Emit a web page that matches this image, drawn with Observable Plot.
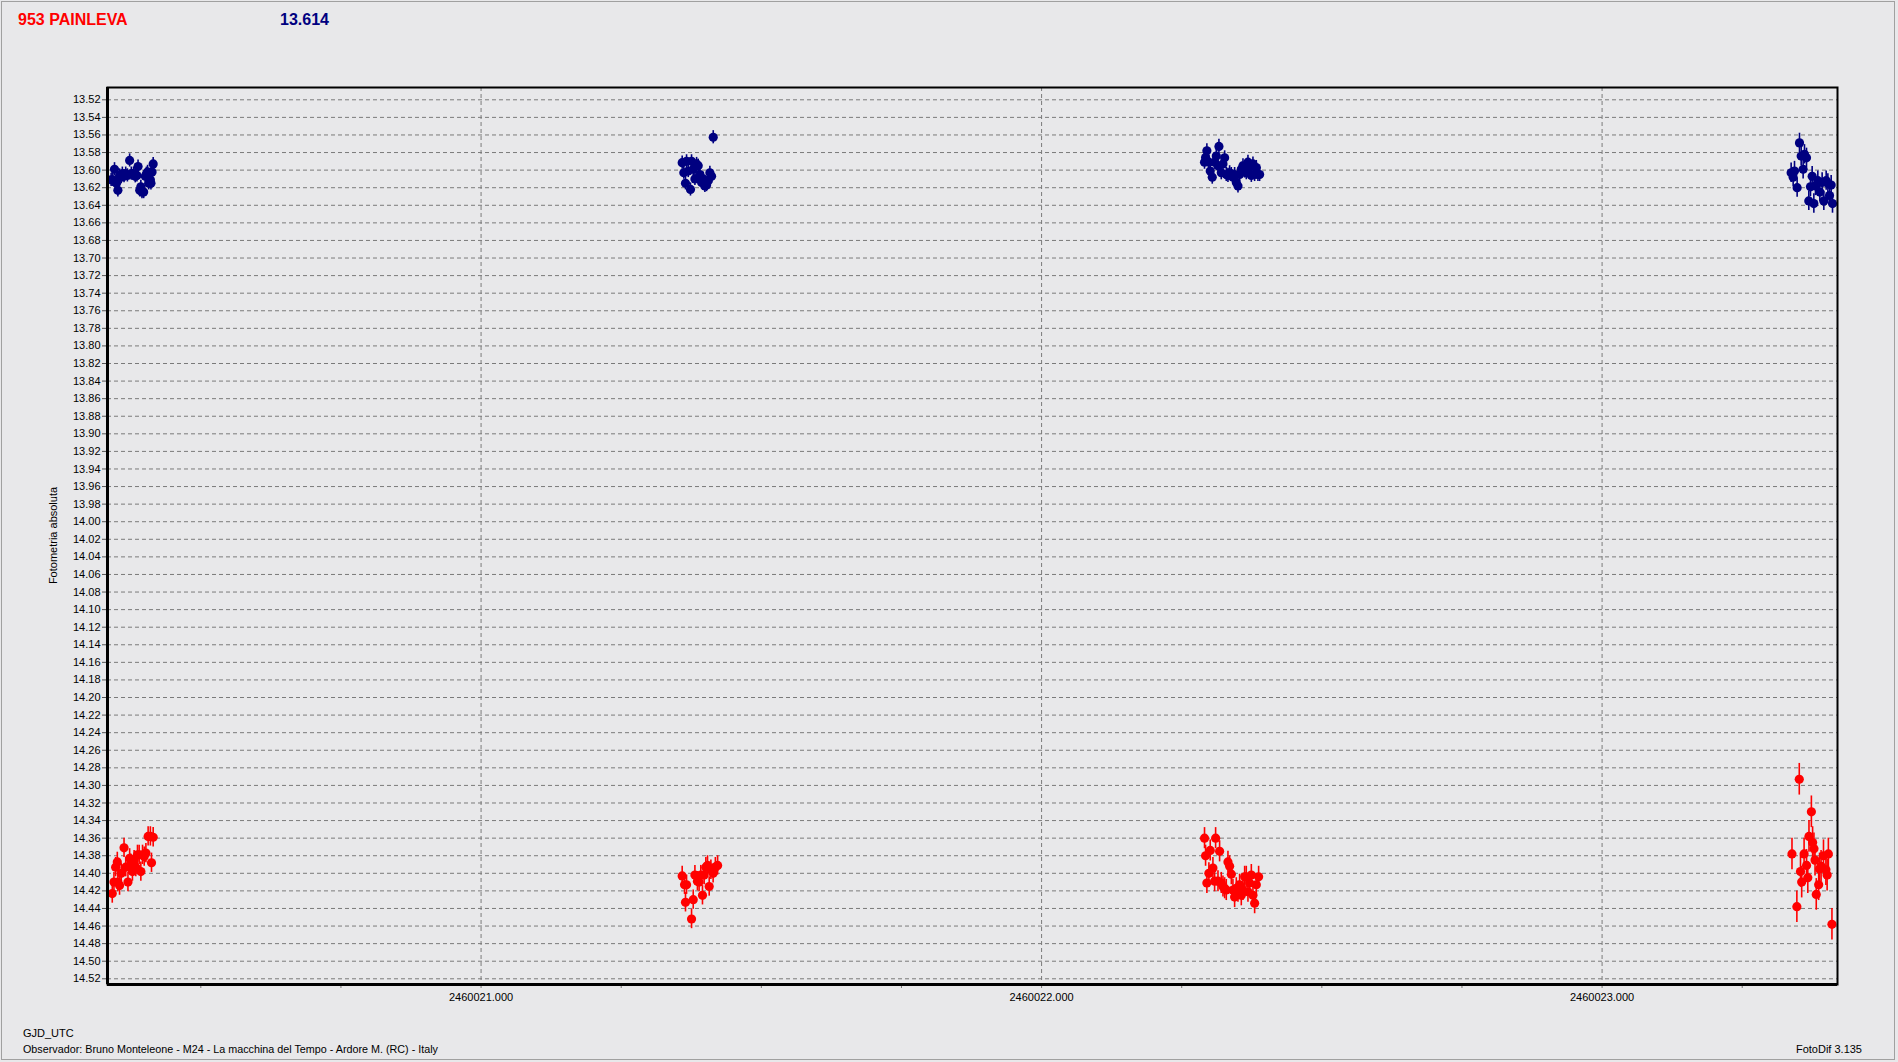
<!DOCTYPE html>
<html><head><meta charset="utf-8">
<script src="https://cdn.jsdelivr.net/npm/d3@7"></script>
<script src="https://cdn.jsdelivr.net/npm/@observablehq/plot@0.6"></script>
<style>
html,body{margin:0;padding:0;background:#e8e8ea;}
#wrap{position:relative;width:1898px;height:1062px;overflow:hidden;background:#e8e8ea;}
#wrap svg{position:absolute;left:0;top:0;}
#border{position:absolute;left:1px;top:1px;width:1894px;height:1059px;border:1px solid #a0a0a0;box-sizing:border-box;}
</style></head>
<body><div id="wrap"><div id="border"></div></div>
<script>
// ---------- DATA ----------
const objectName = "953 PAINLEVA";
const meanMag = "13.614";
const xLabel = "GJD_UTC";
const yLabel = "Fotometria absoluta";
const observer = "Observador: Bruno Monteleone - M24 - La macchina del Tempo - Ardore M. (RC) - Italy";
const software = "FotoDif 3.135";

const xMajorTicks = [2460021, 2460022, 2460023];
const xMinorTicks = [2460020.5, 2460020.75, 2460021, 2460021.25, 2460021.5, 2460021.75, 2460022, 2460022.25, 2460022.5, 2460022.75, 2460023, 2460023.25];
const yTicks = [13.52,13.54,13.56,13.58,13.60,13.62,13.64,13.66,13.68,13.70,13.72,13.74,13.76,13.78,13.80,13.82,13.84,13.86,13.88,13.90,13.92,13.94,13.96,13.98,14.00,14.02,14.04,14.06,14.08,14.10,14.12,14.14,14.16,14.18,14.20,14.22,14.24,14.26,14.28,14.30,14.32,14.34,14.36,14.38,14.40,14.42,14.44,14.46,14.48,14.50,14.52];

// Blue series
const blueJD = [
  2460020.340,2460020.343,2460020.346,2460020.3495,2460020.352,2460020.355,2460020.358,2460020.360,2460020.363,2460020.366,2460020.369,2460020.373,2460020.376,2460020.380,2460020.383,2460020.386,2460020.388,2460020.391,2460020.393,2460020.395,2460020.398,2460020.401,2460020.403,2460020.405,2460020.407,2460020.410,2460020.411,2460020.413,2460020.415,
  2460021.3588,2460021.3617,2460021.3647,2460021.3666,2460021.3696,2460021.3736,2460021.3755,2460021.3785,2460021.3815,2460021.3845,2460021.3874,2460021.3904,2460021.3934,2460021.3964,2460021.3993,2460021.4023,2460021.4053,2460021.4082,2460021.4112,2460021.4142,
  2460022.2907,2460022.2926,2460022.2949,2460022.2985,2460022.3009,2460022.3045,2460022.3087,2460022.3117,2460022.3147,2460022.3164,2460022.3206,2460022.3236,2460022.3266,2460022.3295,2460022.3325,2460022.3355,2460022.3385,2460022.3414,2460022.3444,2460022.3474,2460022.3504,2460022.3533,2460022.3563,2460022.3593,2460022.3623,2460022.3652,2460022.3682,2460022.3712,2460022.3742,2460022.3771,2460022.3801,2460022.3831,2460022.3860,2460022.3890,
  2460023.3373,2460023.3409,2460023.3433,2460023.3480,2460023.3522,2460023.3552,2460023.3587,2460023.3611,2460023.3647,2460023.3688,2460023.3718,2460023.3748,2460023.3778,2460023.3807,2460023.3849,2460023.3885,2460023.3926,2460023.3956,2460023.3998,2460023.4028,2460023.4057,2460023.4087,2460023.4111
];
const blueMag = [
  13.611,13.611,13.599,13.615,13.623,13.606,13.608,13.604,13.607,13.604,13.606,13.589,13.604,13.604,13.607,13.606,13.596,13.623,13.619,13.625,13.625,13.607,13.604,13.602,13.615,13.611,13.615,13.602,13.593,
  13.5915,13.603,13.615,13.590,13.601,13.622,13.590,13.599,13.610,13.593,13.595,13.605,13.614,13.610,13.618,13.617,13.612,13.603,13.607,13.5626,
  13.591,13.5855,13.578,13.591,13.601,13.608,13.591,13.584,13.595,13.573,13.603,13.593,13.586,13.605,13.606,13.603,13.605,13.608,13.605,13.614,13.618,13.605,13.599,13.595,13.601,13.603,13.591,13.597,13.606,13.593,13.605,13.597,13.605,13.605,
  13.603,13.608,13.601,13.620,13.569,13.584,13.599,13.582,13.586,13.635,13.619,13.607,13.638,13.618,13.612,13.625,13.614,13.635,13.612,13.615,13.629,13.617,13.638
];
const blueErrByNight = [0.0075, 0.0075, 0.008, 0.011];

// Red series
const redJD = [
  2460020.342,2460020.345,2460020.348,2460020.351,2460020.352,2460020.355,2460020.358,2460020.363,2460020.366,2460020.370,2460020.373,2460020.375,2460020.378,2460020.381,2460020.384,2460020.387,2460020.390,2460020.393,2460020.396,2460020.399,2460020.402,2460020.406,2460020.410,2460020.412,2460020.415,
  2460021.3588,2460021.363,2460021.3647,2460021.3666,2460021.3755,2460021.3785,2460021.3815,2460021.386,2460021.389,2460021.392,2460021.395,2460021.398,2460021.401,2460021.404,2460021.407,2460021.410,2460021.414,2460021.418,2460021.422,
  2460022.2907,2460022.2926,2460022.2949,2460022.2985,2460022.3009,2460022.3057,2460022.3087,2460022.3105,2460022.3147,2460022.3176,2460022.3206,2460022.3236,2460022.3266,2460022.3295,2460022.3325,2460022.3355,2460022.3385,2460022.3414,2460022.3444,2460022.3474,2460022.3504,2460022.3533,2460022.3563,2460022.3593,2460022.3623,2460022.3652,2460022.3682,2460022.3712,2460022.3742,2460022.3771,2460022.3801,2460022.3831,2460022.3872,
  2460023.3388,2460023.3475,2460023.3518,2460023.3540,2460023.3561,2460023.3604,2460023.3648,2460023.3670,2460023.3691,2460023.3734,2460023.3756,2460023.3780,2460023.3799,2460023.3821,2460023.3864,2460023.3880,2460023.3907,2460023.3950,2460023.3993,2460023.4015,2460023.4037,2460023.4101
];
const redMag = [
  14.423,14.410,14.393,14.387,14.410,14.414,14.400,14.371,14.393,14.410,14.383,14.389,14.398,14.385,14.393,14.379,14.379,14.398,14.379,14.381,14.377,14.358,14.358,14.388,14.359,
  14.403,14.413,14.433,14.413,14.452,14.430,14.402,14.409,14.410,14.402,14.425,14.402,14.393,14.391,14.415,14.396,14.400,14.393,14.391,
  14.360,14.380,14.411,14.400,14.374,14.394,14.409,14.360,14.409,14.375,14.411,14.415,14.417,14.419,14.387,14.392,14.401,14.419,14.427,14.417,14.421,14.413,14.425,14.419,14.404,14.404,14.421,14.411,14.402,14.425,14.434,14.413,14.404,
  14.378,14.438,14.293,14.398,14.410,14.378,14.391,14.405,14.358,14.330,14.365,14.372,14.385,14.424,14.413,14.395,14.392,14.380,14.396,14.402,14.378,14.458
];
const redErrByNight = [0.011, 0.011, 0.012, 0.018];

const blueColor = "#000080";
const redColor = "#ff0000";

// ---------- BUILD ----------
const night = jd => Math.floor(jd - 2460020);
const blue = blueJD.map((x, i) => ({x, y: blueMag[i], e: blueErrByNight[night(x)]}));
const red = redJD.map((x, i) => ({x, y: redMag[i], e: redErrByNight[night(x)]}));

const W = 1898, H = 1062;
const xDomain = [2460020.3335, 2460023.420];
const yDomain = [13.506, 14.5265];

const chart = Plot.plot({
  width: W, height: H,
  marginLeft: 107, marginRight: 61, marginTop: 87, marginBottom: 78,
  style: {background: "transparent", fontFamily: "'Liberation Sans', Arial, sans-serif", fontSize: "11px", color: "#000"},
  x: {domain: xDomain},
  y: {domain: yDomain, reverse: true},
  marks: [
    Plot.gridY(yTicks, {stroke: "#7a7a7a", strokeOpacity: 1, strokeDasharray: "4,3", strokeWidth: 1}),
    Plot.gridX(xMajorTicks, {stroke: "#7a7a7a", strokeOpacity: 1, strokeDasharray: "4,3", strokeWidth: 1}),
    Plot.axisY(yTicks, {tickFormat: d => d.toFixed(2), tickSize: 5, tickPadding: 2, stroke: "#555", fill: "#000", fontSize: 11, label: null}),
    Plot.axisX(xMinorTicks, {tickSize: 4, stroke: "#777", text: null, label: null}),
    Plot.axisX(xMajorTicks, {tickFormat: d => d.toFixed(3), tickSize: 0, tickPadding: 9, fill: "#000", fontSize: 11, label: null}),
    Plot.ruleX(blue, {x: "x", y1: d => d.y - d.e, y2: d => d.y + d.e, stroke: blueColor, strokeWidth: 1.6}),
    Plot.ruleX(red, {x: "x", y1: d => d.y - d.e, y2: d => d.y + d.e, stroke: redColor, strokeWidth: 1.6}),
    Plot.dot(blue, {x: "x", y: "y", r: 4.6, fill: blueColor, stroke: null}),
    Plot.dot(red, {x: "x", y: "y", r: 4.6, fill: redColor, stroke: null}),
    Plot.frame({stroke: "#000", strokeWidth: 2}),
    Plot.ruleX([xDomain[0]], {stroke: "#000", strokeWidth: 3}),
    Plot.ruleY([yDomain[1]], {stroke: "#000", strokeWidth: 3})
  ]
});
document.getElementById("wrap").appendChild(chart);

// ---------- TEXT OVERLAY ----------
const ov = d3.select("#wrap").append("svg")
  .attr("width", W).attr("height", H)
  .style("font-family", "'Liberation Sans', Arial, sans-serif");
ov.append("text").attr("x", 18).attr("y", 25).attr("font-size", 16).attr("font-weight", "bold").attr("fill", redColor).text(objectName);
ov.append("text").attr("x", 280).attr("y", 25).attr("font-size", 16).attr("font-weight", "bold").attr("fill", blueColor).text(meanMag);
ov.append("text").attr("transform", "translate(57,535.5) rotate(-90)").attr("text-anchor", "middle").attr("font-size", 11).attr("fill", "#000").text(yLabel);
ov.append("text").attr("x", 23).attr("y", 1037).attr("font-size", 11).attr("fill", "#000").text(xLabel);
ov.append("text").attr("x", 23).attr("y", 1053).attr("font-size", 11).attr("fill", "#000").attr("textLength", 415).attr("lengthAdjust", "spacingAndGlyphs").text(observer);
ov.append("text").attr("x", 1862).attr("y", 1053).attr("text-anchor", "end").attr("font-size", 11).attr("fill", "#000").text(software);
</script>
</body></html>
